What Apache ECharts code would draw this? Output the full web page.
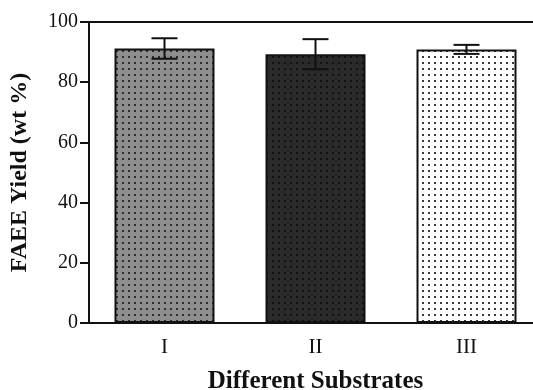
<!DOCTYPE html>
<html><head><meta charset="utf-8">
<script src="https://cdn.jsdelivr.net/npm/echarts@6/dist/echarts.min.js"></script>
<style>html,body{margin:0;padding:0;background:#fff}#c{width:533px;height:390px}</style>
</head><body><div id="c"></div>
<script>
const categories = ['I', 'II', 'III'];
const yields = [91.2, 89.3, 90.9];
const errors = [3.4, 5.0, 1.5];
const yTicks = [0, 20, 40, 60, 80, 100];

function pattern(bg, dot) {
  const c = document.createElement('canvas');
  c.width = 6; c.height = 6;
  const g = c.getContext('2d');
  g.fillStyle = bg; g.fillRect(0, 0, 6, 6);
  g.fillStyle = dot; g.fillRect(2, 2, 2, 2);
  return c;
}
const fills = [
  {image: pattern('#8e8e8e', '#2e2e2e'), repeat: 'repeat'},
  {image: pattern('#2a2a2a', '#121212'), repeat: 'repeat'},
  {image: pattern('#ffffff', '#3a3a3a'), repeat: 'repeat'}
];

const serif = '"Liberation Serif", "Times New Roman", serif';
const chart = echarts.init(document.getElementById('c'));
chart.setOption({
  animation: false,
  grid: {left: 89, top: 22, bottom: 67, right: -9, containLabel: false, outerBoundsMode: 'none',
    show: true, borderColor: '#111', borderWidth: 2, backgroundColor: 'transparent'},
  xAxis: {
    type: 'category', data: categories, boundaryGap: true,
    axisLine: {lineStyle: {color: '#111', width: 2}},
    axisTick: {alignWithLabel: true, length: 7, lineStyle: {width: 2, color: '#111'}},
    axisLabel: {fontFamily: serif, fontSize: 21, color: '#111', margin: 14},
    name: 'Different Substrates', nameLocation: 'middle', nameGap: 46,
    nameTextStyle: {fontFamily: serif, fontSize: 25, fontWeight: 'bold', color: '#111'}
  },
  yAxis: {
    type: 'value', min: 0, max: 100, interval: 20,
    axisLine: {show: true, lineStyle: {color: '#111', width: 2}},
    axisTick: {show: true, length: 9, lineStyle: {width: 2, color: '#111'}},
    axisLabel: {fontFamily: serif, fontSize: 20, color: '#111', margin: 11,
      formatter: v => yTicks.includes(v) ? String(v) : ''},
    splitLine: {show: false},
    name: 'FAEE Yield (wt %)', nameLocation: 'middle', nameGap: 57,
    nameTextStyle: {fontFamily: serif, fontSize: 24, fontWeight: 'bold', color: '#111'}
  },
  series: [
    {
      type: 'bar', barWidth: 100,
      data: yields.map((v, i) => ({value: v, itemStyle: {color: fills[i]}})),
      itemStyle: {borderColor: '#111', borderWidth: 2}
    },
    {
      type: 'custom',
      data: yields.map((v, i) => [i, v - errors[i], v + errors[i]]),
      renderItem: function (params, api) {
        const lo = api.coord([api.value(0), api.value(1)]);
        const hi = api.coord([api.value(0), api.value(2)]);
        const hw = 13;
        const st = {stroke: '#111', lineWidth: 2};
        return {type: 'group', children: [
          {type: 'line', shape: {x1: hi[0], y1: hi[1], x2: hi[0], y2: lo[1]}, style: st},
          {type: 'line', shape: {x1: hi[0] - hw, y1: hi[1], x2: hi[0] + hw, y2: hi[1]}, style: st},
          {type: 'line', shape: {x1: lo[0] - hw, y1: lo[1], x2: lo[0] + hw, y2: lo[1]}, style: st}
        ]};
      },
      z: 10
    }
  ]
});
</script></body></html>
